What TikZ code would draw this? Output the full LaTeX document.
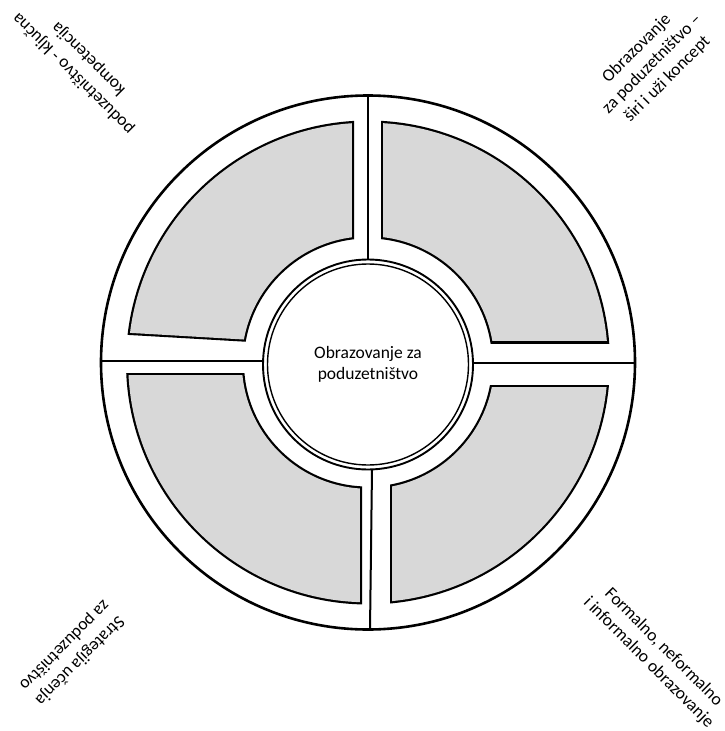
\documentclass[tikz,border=0pt]{standalone}
\usepackage{fontspec}
\setmainfont{Carlito}
\definecolor{blockgray}{RGB}{216,216,216}
\tikzset{
  lbl/.style={font=\fontsize{17.5}{21.5}\selectfont, align=center, inner sep=0pt},
  divider/.style={line width=2pt, black},
}
\begin{document}
\begin{tikzpicture}[x=1pt,y=-1pt]
\useasboundingbox (0,0) rectangle (724,731);
\fill[white] (0,0) rectangle (724,731);
\coordinate (C) at (368,362.5);
\def\Ro{242}\def\Ri{124}\def\w{2.2}
% outer circle
\draw[line width=2.6pt] (C) circle (267);
% upper left
\begin{scope}
  \clip (354,0) -- (354,348) -- (0,327.5) -- (0,0) -- cycle;
  \fill[black, even odd rule] (C) circle (\Ro) (C) circle (\Ri);
\end{scope}
\begin{scope}
  \clip (354-\w,0) -- (354-\w,348-\w) -- (0,327.5-\w) -- (0,0) -- cycle;
  \fill[blockgray, even odd rule] (C) circle (\Ro-\w) (C) circle (\Ri+\w);
\end{scope}
% upper right
\begin{scope}
  \clip (381,0) -- (381,343) -- (724,343) -- (724,0) -- cycle;
  \fill[black, even odd rule] (C) circle (\Ro) (C) circle (\Ri);
\end{scope}
\begin{scope}
  \clip (381+\w,0) -- (381+\w,343-\w) -- (724,343-\w) -- (724,0) -- cycle;
  \fill[blockgray, even odd rule] (C) circle (\Ro-\w) (C) circle (\Ri+\w);
\end{scope}
% lower left
\begin{scope}
  \clip (0,373) -- (362,373) -- (362,731) -- (0,731) -- cycle;
  \fill[black, even odd rule] (C) circle (\Ro) (C) circle (\Ri);
\end{scope}
\begin{scope}
  \clip (0,373+\w) -- (362-\w,373+\w) -- (362-\w,731) -- (0,731) -- cycle;
  \fill[blockgray, even odd rule] (C) circle (\Ro-\w) (C) circle (\Ri+\w);
\end{scope}
% lower right
\begin{scope}
  \clip (390,385) -- (724,385) -- (724,731) -- (390,731) -- cycle;
  \fill[black, even odd rule] (C) circle (\Ro) (C) circle (\Ri);
\end{scope}
\begin{scope}
  \clip (390+\w,385+\w) -- (724,385+\w) -- (724,731) -- (390+\w,731) -- cycle;
  \fill[blockgray, even odd rule] (C) circle (\Ro-\w) (C) circle (\Ri+\w);
\end{scope}
% dividers
\coordinate (t1) at (368,95.5);  \coordinate (t2) at (368,259.5);
\coordinate (l1) at (101,361);   \coordinate (l2) at (263,361);
\coordinate (r1) at (473,363);   \coordinate (r2) at (634.5,363);
\coordinate (b1) at (372,469.5); \coordinate (b2) at (370,629.5);
\draw[divider] (t1) -- (t2);
\draw[divider] (l1) -- (l2);
\draw[divider] (r1) -- (r2);
\draw[divider] (b1) -- (b2);
% inner circle
\node[circle, minimum size=210pt, inner sep=0pt, draw, line width=1.9pt, fill=white] (hub) at (368,364.5) {};
\draw[line width=1.4pt] (hub.center) circle (100.5);
\node[lbl] (hubtext) at (hub.center) {Obrazovanje za\\poduzetništvo};
% corner labels
\node[lbl, rotate=135] (tl) at (81,66) {poduzetništvo - ključna\\kompetencija};
\node[lbl, rotate=45] (tr) at (652,64) {Obrazovanje\\za poduzetništvo –\\širi i uži koncept};
\node[lbl, rotate=-135] (bl) at (72,653) {Strategija učenja\\za poduzetništvo};
\node[lbl, rotate=-45] (br) at (656,655) {Formalno, neformalno\\i informalno obrazovanje};
\end{tikzpicture}
\end{document}
